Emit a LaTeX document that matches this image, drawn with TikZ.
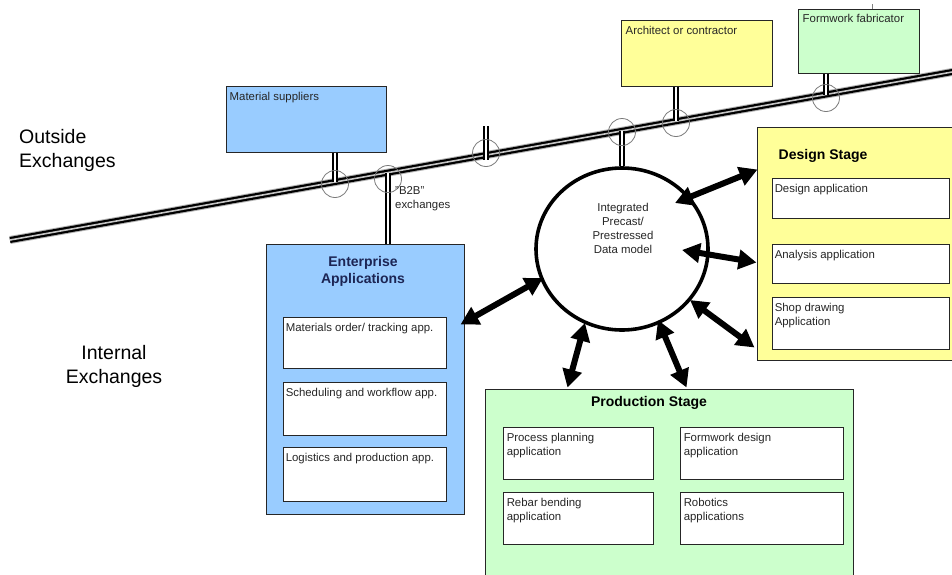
\documentclass[tikz,border=0pt]{standalone}
\usepackage{fontspec}
\setmainfont{Liberation Sans}
\usetikzlibrary{arrows.meta,shapes.geometric,calc}
\definecolor{paleblue}{HTML}{99CCFF}
\definecolor{paleyellow}{HTML}{FFFF99}
\definecolor{palegreen}{HTML}{CCFFCC}
\definecolor{navytitle}{HTML}{1C2554}
\definecolor{ringgray}{HTML}{7A7A7A}

\begin{document}
\begin{tikzpicture}[x=1pt,y=-1pt,
  box/.style={draw=black!85, line width=1pt, inner sep=0pt, rectangle},
  appbox/.style={box, fill=white, line width=0.9pt},
  lbl/.style={anchor=north west, inner sep=0pt, align=left,
    font=\fontsize{11.4}{14}\selectfont, text=black!85},
  stagetitle/.style={inner sep=0pt, font=\fontsize{14}{17}\selectfont\bfseries},
  bigtext/.style={inner sep=0pt, font=\fontsize{19.5}{24}\selectfont},
  pipe/.style={draw=black, line width=1.7pt, double=white, double distance=1.8pt},
  ring/.style={draw=ringgray, line width=0.8pt, circle, minimum size=27pt, inner sep=0pt},
  link/.style={line width=6pt,
    {Triangle[length=18pt,width=19pt]}-{Triangle[length=18pt,width=19pt]}},
]
\fill[white] (0,0) rectangle (952,574);
\useasboundingbox (0,0) rectangle (952,574);
\clip (0,0) rectangle (952,574);

% ---- shared data bus ----
\coordinate (busL) at (10,240);
\coordinate (busR) at (960,70.6);
\draw[gray!60, line width=8pt] (busL) -- (busR);
\draw[black, line width=6pt] (busL) -- (busR);
\draw[gray!45, line width=1.6pt] (busL) -- (busR);

% junctions on the bus
\coordinate (j1) at (335,182.1);
\coordinate (j2) at (388,172.6);
\coordinate (j3) at (486,155.1);
\coordinate (j4) at (622,130.9);
\coordinate (j5) at (676,121.3);
\coordinate (j6) at (826,94.5);
\coordinate (stubtop) at (486,126);

% ---- outside parties ----
\node[box, fill=paleblue, minimum width=160pt, minimum height=66pt] (ms) at (306,119) {};
\node[lbl] (mslbl) at ($(ms.north west)+(4,7)$) {Material suppliers};

\node[box, fill=paleyellow, minimum width=151pt, minimum height=66pt] (arch) at (696.5,53) {};
\node[lbl] (archlbl) at ($(arch.north west)+(5,7)$) {Architect or contractor};

\node[box, fill=palegreen, minimum width=121pt, minimum height=64pt] (ff) at (858.5,41) {};
\node[lbl] (fflbl) at ($(ff.north west)+(5,6)$) {Formwork fabricator};
\draw[gray, line width=0.7pt] ($(ff.north)+(13.5,0)$) -- ++(0,-5);

% ---- central data model ----
\node[ellipse, draw, line width=3.6pt, minimum width=172pt, minimum height=162pt, inner sep=0pt] (dm) at (622,249) {};
\node[inner sep=0pt, align=center, font=\fontsize{11.4}{14}\selectfont, text=black!85] (dmlbl) at (623,228)
  {Integrated\\Precast/\\Prestressed\\Data model};

% ---- enterprise applications ----
\node[box, fill=paleblue, minimum width=198pt, minimum height=270pt] (ent) at (365,379) {};
\node[stagetitle, text=navytitle, align=center, anchor=north] (entlbl) at ($(ent.north)+(-2,13)$)
  {Enterprise\\Applications};
\node[appbox, minimum width=163pt, minimum height=51pt] (e1) at (364.5,342.5) {};
\node[appbox, minimum width=163pt, minimum height=53pt] (e2) at (364.5,408.5) {};
\node[appbox, minimum width=163pt, minimum height=54pt] (e3) at (364.5,474) {};
\node[lbl] (e1lbl) at ($(e1.north west)+(3,6)$) {Materials order/ tracking app.};
\node[lbl] (e2lbl) at ($(e2.north west)+(3,6)$) {Scheduling and workflow app.};
\node[lbl] (e3lbl) at ($(e3.north west)+(3,6)$) {Logistics and production app.};

% ---- design stage ----
\node[box, fill=paleyellow, minimum width=201pt, minimum height=233pt] (ds) at (857.5,243.5) {};
\node[stagetitle, anchor=base west] (dslbl) at ($(ds.north west)+(22,33)$) {Design Stage};
\node[appbox, minimum width=177pt, minimum height=40pt] (d1) at (860.5,198) {};
\node[appbox, minimum width=177pt, minimum height=39pt] (d2) at (860.5,263.5) {};
\node[appbox, minimum width=177pt, minimum height=52pt] (d3) at (860.5,323) {};
\node[lbl] (d1lbl) at ($(d1.north west)+(3,6)$) {Design application};
\node[lbl] (d2lbl) at ($(d2.north west)+(3,6)$) {Analysis application};
\node[lbl] (d3lbl) at ($(d3.north west)+(3,6)$) {Shop drawing\\Application};

% ---- production stage ----
\node[box, fill=palegreen, minimum width=368pt, minimum height=201pt] (ps) at (669,489.5) {};
\node[stagetitle, anchor=base] (pslbl) at ($(ps.north)+(-20,18)$) {Production Stage};
\node[appbox, minimum width=150pt, minimum height=52pt] (p1) at (578,453) {};
\node[appbox, minimum width=163pt, minimum height=52pt] (p2) at (761.5,453) {};
\node[appbox, minimum width=150pt, minimum height=52pt] (p3) at (578,518) {};
\node[appbox, minimum width=163pt, minimum height=52pt] (p4) at (761.5,518) {};
\node[lbl] (p1lbl) at ($(p1.north west)+(4,6)$) {Process planning\\application};
\node[lbl] (p2lbl) at ($(p2.north west)+(4,6)$) {Formwork design\\application};
\node[lbl] (p3lbl) at ($(p3.north west)+(4,6)$) {Rebar bending\\application};
\node[lbl] (p4lbl) at ($(p4.north west)+(4,6)$) {Robotics\\applications};

% ---- links onto the bus ----
\draw[pipe] (ms.south -| j1) -- (j1);
\draw[pipe] (j2) -- (ent.north -| j2);
\draw[pipe] (stubtop) -- ($(j3)+(0,5)$);
\draw[pipe] (j4) -- (dm.north);
\draw[pipe] (arch.south -| j5) -- (j5);
\draw[pipe] (ff.south -| j6) -- (j6);

\node[ring] (r1) at (335,184) {};
\node[ring] (r2) at (388,179) {};
\node[ring] (r3) at (486,153) {};
\node[ring] (r4) at (622,132) {};
\node[ring] (r5) at (676,123) {};
\node[ring] (r6) at (826,98) {};

\node[lbl] (b2b) at (395,186) {\char34 B2B\char34\\exchanges};

% ---- exchanges between data model and applications ----
\draw[link] ($(dm.center)+(53,-46)$) -- ($(ds.north west)+(1,43)$);
\draw[link] ($(dm.center)+(60,1)$) -- ($(ds.north west)+(0,136)$);
\draw[link] ($(dm.center)+(68,51)$) -- ($(ds.north west)+(-2,221)$);
\draw[link] ($(dm.center)+(36,71)$) -- ($(ps.north west)+(202,-1)$);
\draw[link] ($(dm.center)+(-37,74)$) -- ($(ps.north west)+(83,-1)$);
\draw[link] ($(dm.center)+(-79,29)$) -- ($(ent.north east)+(-4,81)$);

% ---- side captions ----
\node[bigtext, anchor=north west, align=left] (outside) at (19,129) {Outside\\Exchanges};
\node[bigtext, anchor=north, align=center] (internal) at (114,345) {Internal\\Exchanges};

\end{tikzpicture}
\end{document}
